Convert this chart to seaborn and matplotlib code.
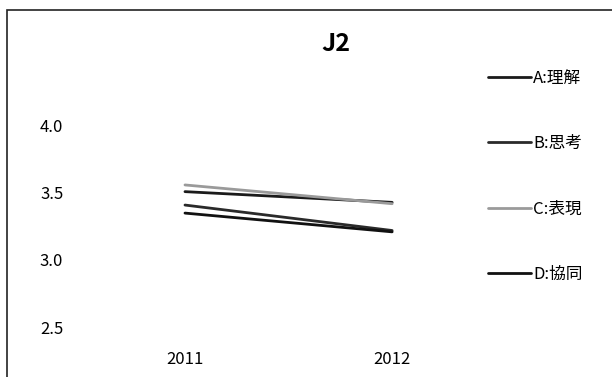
import matplotlib
matplotlib.use("Agg")
import matplotlib.pyplot as plt
from matplotlib.patches import Rectangle
import seaborn as sns
import pandas as pd

years = ["2011", "2012"]
series_names = ["A:理解", "B:思考", "C:表現", "D:協同"]
a_vals = [3.51, 3.43]
b_vals = [3.41, 3.22]
c_vals = [3.56, 3.42]
d_vals = [3.35, 3.21]
y_ticks = [2.5, 3.0, 3.5, 4.0]
colors = ["#1a1a1a", "#2a2a2a", "#9a9a9a", "#111111"]

sns.set_theme(style="white")
plt.rcParams["font.family"] = ["Noto Sans CJK JP", "DejaVu Sans"]
plt.rcParams["text.color"] = "black"
plt.rcParams["xtick.color"] = "black"
plt.rcParams["ytick.color"] = "black"

rows = []
for name, vals in zip(series_names, [a_vals, b_vals, c_vals, d_vals]):
    for yr, v in zip(years, vals):
        rows.append({"year": yr, "score": v, "series": name})
df = pd.DataFrame(rows)

fig = plt.figure(figsize=(6.12, 3.77), dpi=100)
ax = fig.add_axes([0.133, 0.1326, 0.677, 0.711])

sns.lineplot(data=df, x="year", y="score", hue="series", hue_order=series_names,
             palette=colors, linewidth=2.0, ax=ax, legend=False, sort=False)

ax.set_xlim(-0.5, 1.5)
ax.set_ylim(2.5, 4.5)
ax.set_yticks(y_ticks)
ax.set_yticklabels([f"{t:.1f}" for t in y_ticks], fontsize=12)
ax.set_xticks(range(len(years)))
ax.set_xticklabels(years, fontsize=12)
ax.tick_params(axis="y", pad=13, length=0)
ax.tick_params(axis="x", pad=17, length=0)
ax.set_xlabel("")
ax.set_ylabel("")
for s in ax.spines.values():
    s.set_visible(False)

fig.text(336 / 612, 1 - 44 / 377, "J2", ha="center", va="center",
         fontsize=18, fontweight="bold")

# legend on the right, one entry per row with wide spacing
handles = [plt.Line2D([], [], color=c, lw=2.0) for c in colors]
fig.legend(handles, series_names, loc="upper left",
           bbox_to_anchor=(488 / 612, 1 - 70 / 377),
           frameon=False, fontsize=12, handlelength=2.6, handletextpad=0.12,
           labelspacing=2.9, borderaxespad=0, borderpad=0)

# outer chart frame
fig.patches.append(Rectangle((7 / 612, -0.05), 1.0, 1 - 10 / 377 + 0.05,
                             transform=fig.transFigure, fill=False,
                             edgecolor="#222222", linewidth=1.2))

fig.savefig("out.png", dpi=100)
